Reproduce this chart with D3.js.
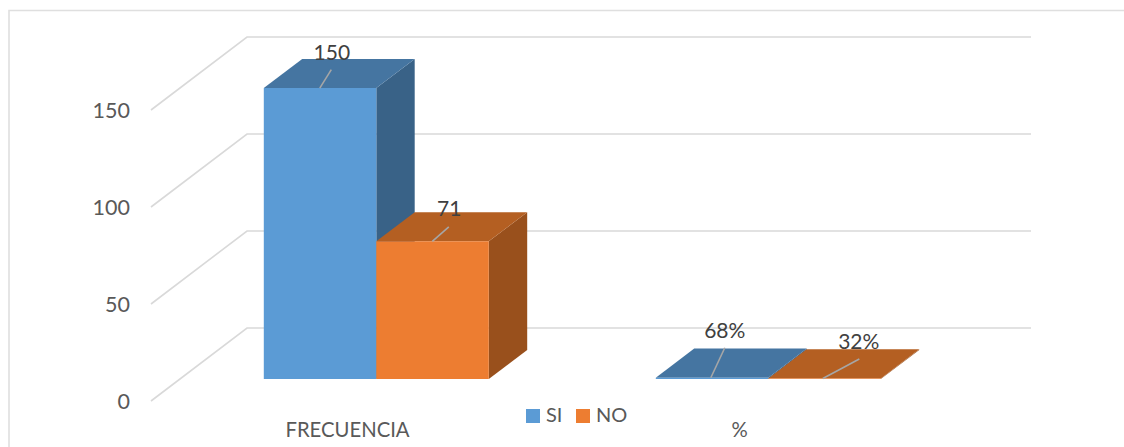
<!DOCTYPE html>
<html>
<head>
<meta charset="utf-8">
<script src="https://cdn.jsdelivr.net/npm/d3@7/dist/d3.min.js"></script>
<style>
html,body{margin:0;padding:0;background:#fff;overflow:hidden}
svg{display:block}
text{font-family:Lato,"Open Sans",sans-serif}
</style>
</head>
<body>
<svg id="chart" width="1124" height="447"></svg>
<script>
// Survey results, drawn as a clustered column chart in oblique 3D
const categories = ["FRECUENCIA", "%"];
const seriesNames = ["SI", "NO"];
const siValues = [150, 0.68];
const noValues = [71, 0.32];
const valueLabels = [["150", "68%"], ["71", "32%"]];
const yTicks = [0, 50, 100, 150];

const svg = d3.select("#chart");
const W = 1124, H = 447;

// Oblique projection: depth 0 is the front of the floor, depth 1 the back wall
const floorY = 401, depthX = 96, depthY = 73;
const barFront = 0.3, barBack = 0.7;
const clusterWidth = 225;

const x = d3.scaleBand().domain(categories).range([151.5, 935.5]);
const xSeries = d3.scaleBand().domain(seriesNames).range([-clusterWidth / 2, clusterWidth / 2]);
const y = d3.scaleLinear().domain([0, 150]).range([floorY, 110]);

const project = (px, depth, value) => [px + depth * depthX, y(value) - depth * depthY];
const poly = pts => pts.map(p => p.map(v => v.toFixed(2)).join(",")).join(" ");

const palette = {
  SI: { front: "#5b9bd5", top: "#4575a1", side: "#396287" },
  NO: { front: "#ed7d31", top: "#b45f22", side: "#99501c" }
};

// Outer frame of the chart area
svg.append("path")
  .attr("d", `M9,${H} V10.5 H${W}`)
  .attr("fill", "none").attr("stroke", "#dfdfdf").attr("stroke-width", 1.6);

// Gridlines run across the back wall and down the left side wall
const grid = svg.append("g").attr("fill", "none").attr("stroke", "#d9d9d9").attr("stroke-width", 1.6);
grid.selectAll("path").data(yTicks).join("path")
  .attr("d", t => {
    const a = project(151, 0, t), b = project(151, 1, t), c = project(935, 1, t);
    return `M${a} L${b} L${c}`;
  });

// Columns
const values = { SI: siValues, NO: noValues };
const marks = svg.append("g");
seriesNames.forEach(name => {
  const c = palette[name];
  categories.forEach((cat, i) => {
    const v = values[name][i];
    const x0 = x(cat) + x.bandwidth() / 2 + xSeries(name);
    const x1 = x0 + xSeries.bandwidth();
    const g = marks.append("g").attr("class", "bar");
    g.append("polygon")
      .attr("points", poly([project(x1, barFront, 0), project(x1, barBack, 0), project(x1, barBack, v), project(x1, barFront, v)]))
      .attr("fill", c.side);
    g.append("polygon")
      .attr("points", poly([project(x0, barFront, v), project(x1, barFront, v), project(x1, barBack, v), project(x0, barBack, v)]))
      .attr("fill", c.top);
    g.append("polygon")
      .attr("points", poly([project(x0, barFront, 0), project(x1, barFront, 0), project(x1, barFront, v), project(x0, barFront, v)]))
      .attr("fill", c.front);
  });
});

// Data labels with their leader lines, placed relative to each column's front top edge
const labelOffsets = {
  SI: [{ fx: 56, lx: 67.5, ly: -18.5, tx: 68, ty: -33 }, { fx: 55, lx: 69, ly: -30, tx: 69, ty: -45.5 }],
  NO: [{ fx: 56, lx: 72.5, ly: -14.5, tx: 73, ty: -31 }, { fx: 54.5, lx: 91, ly: -19.5, tx: 90.5, ty: -35 }]
};
const labels = svg.append("g");
seriesNames.forEach((name, s) => {
  categories.forEach((cat, i) => {
    const v = values[name][i];
    const o = labelOffsets[name][i];
    const [fx, fy] = project(x(cat) + x.bandwidth() / 2 + xSeries(name), barFront, v);
    labels.append("line")
      .attr("x1", fx + o.fx).attr("y1", fy)
      .attr("x2", fx + o.lx).attr("y2", fy + o.ly)
      .attr("stroke", "#a6a6a6").attr("stroke-width", 1.6);
    labels.append("text")
      .attr("x", fx + o.tx).attr("y", fy + o.ty)
      .attr("text-anchor", "middle").attr("dominant-baseline", "middle")
      .attr("font-size", 21).attr("fill", "#404040")
      .text(valueLabels[s][i]);
  });
});

// Value axis, labels only
const yAxis = svg.append("g")
  .attr("transform", "translate(130,0.5)")
  .call(d3.axisLeft(y).tickValues(yTicks).tickSize(0).tickPadding(0));
yAxis.select(".domain").remove();
yAxis.selectAll("text").attr("font-size", 21.5).attr("fill", "#595959");

// Category axis, labels only
const xAxis = svg.append("g")
  .attr("transform", "translate(0,423)")
  .call(d3.axisBottom(x).tickSize(0).tickPadding(0));
xAxis.select(".domain").remove();
xAxis.selectAll("text").attr("font-size", 20.3).attr("fill", "#595959");

// Legend
const legendX = { SI: 526, NO: 576 };
const legend = svg.append("g").selectAll("g").data(seriesNames).join("g")
  .attr("transform", d => `translate(${legendX[d]},409)`);
legend.append("rect").attr("width", 14).attr("height", 14).attr("fill", d => palette[d].front);
legend.append("text")
  .attr("x", 20).attr("y", 7.5).attr("dominant-baseline", "middle")
  .attr("font-size", 20).attr("fill", "#595959")
  .text(d => d);
</script>
</body>
</html>
